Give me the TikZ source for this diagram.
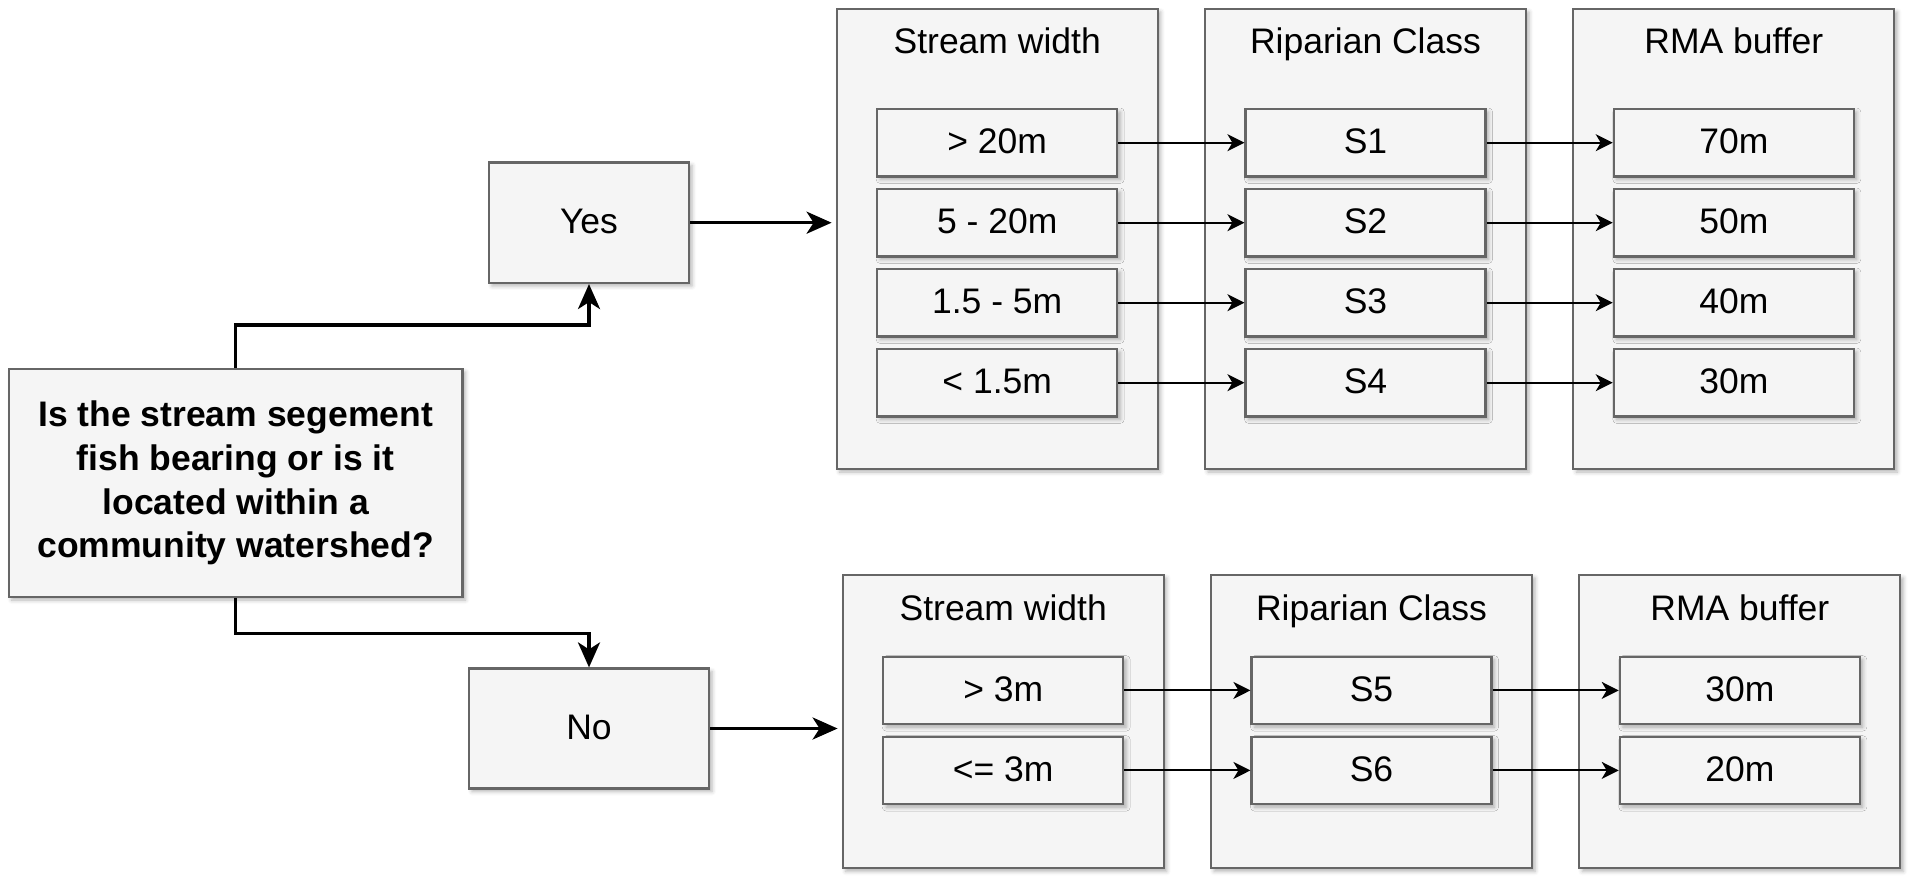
\documentclass[tikz,border=0pt]{standalone}
\usepackage{fontspec}
\setmainfont{Liberation Sans}
\usetikzlibrary{arrows.meta,shadows.blur}
\definecolor{boxfill}{HTML}{F5F5F5}
\definecolor{boxline}{HTML}{666666}
\begin{document}
\begin{tikzpicture}[x=1pt,y=-1pt,
    graybox/.style={draw=boxline,fill=boxfill,line width=2.2pt,inner sep=0pt,
      blur shadow={shadow xshift=3pt,shadow yshift=-3pt,shadow blur radius=4pt,shadow opacity=30},
      font=\fontsize{35.5}{43.7}\selectfont,text height=25.5pt,text depth=4pt},
    panel/.style={graybox,minimum width=321pt},
    cell/.style={graybox,minimum width=240pt,minimum height=67.4pt},
    paneltitle/.style={inner sep=0pt,font=\fontsize{35.5}{43.7}\selectfont,text height=25.5pt,text depth=4pt},
    bigarrow/.style={line width=3.5pt,-{Stealth[length=25pt,width=22pt,inset=7pt]}},
    smallarrow/.style={line width=2pt,-{Stealth[length=17pt,width=17pt,inset=5pt]}}]
  \useasboundingbox (0,0) rectangle (1914,886);
  \node[graybox,minimum width=453.8pt,minimum height=228pt,align=center,
    text height=,text depth=,font=\fontsize{35.5}{43.7}\selectfont\bfseries] (q) at (235.6,483)
    {Is the stream segement\\fish bearing or is it\\located within a\\community watershed?};
  \node[graybox,minimum width=200pt,minimum height=120.5pt] (yes) at (589,222.7) {Yes};
  \node[graybox,minimum width=240pt,minimum height=120pt] (no) at (589,728.5) {No};
  \node[panel,minimum height=460pt] (cw1) at (997.2,239) {};
  \node[panel,minimum height=460pt] (cs1) at (1365.5,239) {};
  \node[panel,minimum height=460pt] (cr1) at (1733.8,239) {};
  \node[paneltitle] (tw1) at (997.2,43.2) {Stream width};
  \node[paneltitle] (ts1) at (1365.5,43.2) {Riparian Class};
  \node[paneltitle] (tr1) at (1733.8,43.2) {RMA buffer};
  \node[cell] (w1) at (997.2,142.7) {> 20m};
  \node[cell] (w2) at (997.2,222.7) {5 - 20m};
  \node[cell] (w3) at (997.2,302.7) {1.5 - 5m};
  \node[cell] (w4) at (997.2,382.7) {< 1.5m};
  \node[cell] (s1) at (1365.5,142.7) {S1};
  \node[cell] (s2) at (1365.5,222.7) {S2};
  \node[cell] (s3) at (1365.5,302.7) {S3};
  \node[cell] (s4) at (1365.5,382.7) {S4};
  \node[cell] (r1) at (1733.8,142.7) {70m};
  \node[cell] (r2) at (1733.8,222.7) {50m};
  \node[cell] (r3) at (1733.8,302.7) {40m};
  \node[cell] (r4) at (1733.8,382.7) {30m};
  \node[panel,minimum height=293.3pt] (cw2) at (1003.2,721.7) {};
  \node[panel,minimum height=293.3pt] (cs2) at (1371.5,721.7) {};
  \node[panel,minimum height=293.3pt] (cr2) at (1739.8,721.7) {};
  \node[paneltitle] (tw2) at (1003.2,609.5) {Stream width};
  \node[paneltitle] (ts2) at (1371.5,609.5) {Riparian Class};
  \node[paneltitle] (tr2) at (1739.8,609.5) {RMA buffer};
  \node[cell] (w5) at (1003.2,690.4) {> 3m};
  \node[cell] (w6) at (1003.2,770.4) {<= 3m};
  \node[cell] (s5) at (1371.5,690.4) {S5};
  \node[cell] (s6) at (1371.5,770.4) {S6};
  \node[cell] (r5) at (1739.8,690.4) {30m};
  \node[cell] (r6) at (1739.8,770.4) {20m};
  \begin{scope}[bigarrow]
    \draw (q.north) -- ++(0,-43) -| (yes.south);
    \draw (q.south) -- ++(0,35.3) -| (no.north);
    \draw[shorten >=4pt] (yes.east) -- (yes.east -| cw1.west);
    \draw[shorten >=4pt] (no.east) -- (no.east -| cw2.west);
  \end{scope}
  \begin{scope}[smallarrow]
    \draw (w1) to (s1);
    \draw (w2) to (s2);
    \draw (w3) to (s3);
    \draw (w4) to (s4);
    \draw (s1) to (r1);
    \draw (s2) to (r2);
    \draw (s3) to (r3);
    \draw (s4) to (r4);
    \draw (w5) to (s5);
    \draw (w6) to (s6);
    \draw (s5) to (r5);
    \draw (s6) to (r6);
  \end{scope}
\end{tikzpicture}
\end{document}
